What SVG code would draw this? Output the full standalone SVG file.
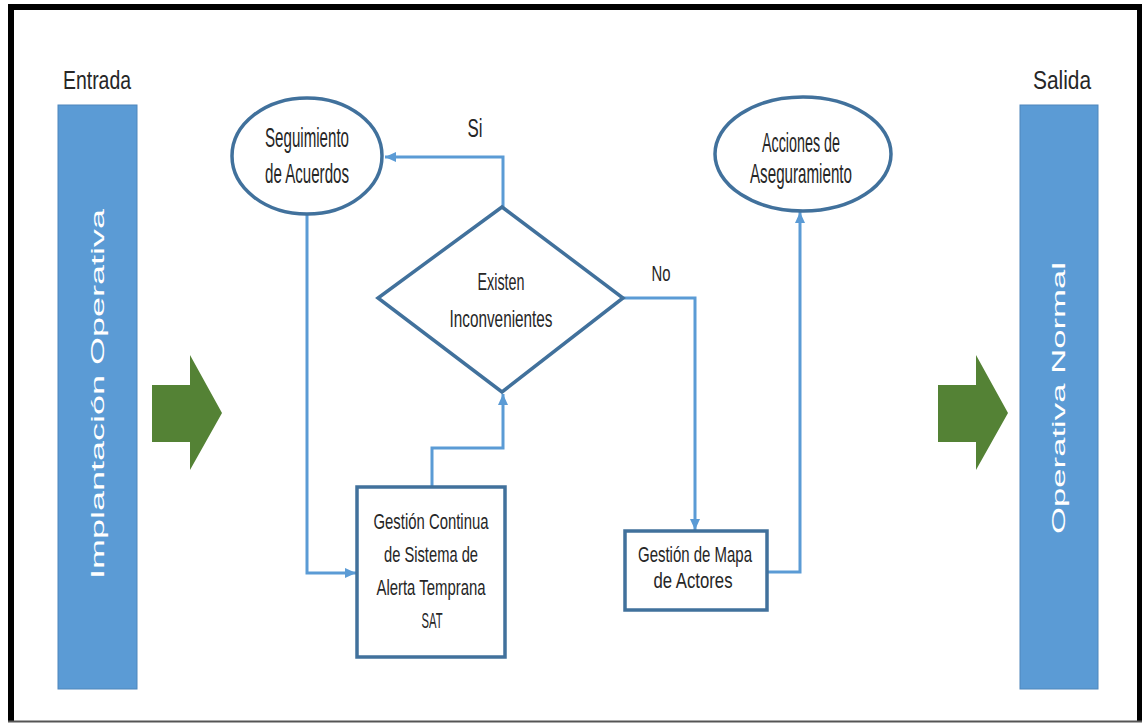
<svg xmlns="http://www.w3.org/2000/svg" width="1142" height="723" viewBox="0 0 1142 723">
  <style>
    .t { font-family: "Liberation Sans", Arial, sans-serif; fill: #262626; text-anchor: middle; }
    .bar { fill: #5B9BD5; stroke: #4F86BB; stroke-width: 1; }
    .bartxt { font-family: "Liberation Sans", Arial, sans-serif; fill: #FFFFFF; text-anchor: middle; font-size: 19px; }
    .node { fill: #FFFFFF; stroke: #41719C; stroke-width: 3.5; }
    .conn { fill: none; stroke: #5B9BD5; stroke-width: 3; }
    .green { fill: #548235; }
  </style>
  <defs>
    <marker id="arr" markerUnits="userSpaceOnUse" markerWidth="12" markerHeight="12" viewBox="0 0 12 12" refX="11" refY="6" orient="auto">
      <path d="M0,1 L11,6 L0,11 Z" fill="#5B9BD5"/>
    </marker>
  </defs>

  <!-- page -->
  <rect x="0" y="0" width="1142" height="723" fill="#FFFFFF"/>
  <path d="M11,722 V7 H1140 V722" fill="none" stroke="#000000" stroke-width="6"/>
  <line x1="8" y1="721.5" x2="1142" y2="721.5" stroke="#555555" stroke-width="2"/>

  <!-- input / output columns -->
  <g id="entrada">
    <text class="t" x="97" y="89" font-size="25" textLength="68" lengthAdjust="spacingAndGlyphs">Entrada</text>
    <rect class="bar" x="58" y="105" width="79" height="584"/>
    <text class="bartxt" transform="translate(104,394) rotate(-90)" textLength="370" lengthAdjust="spacingAndGlyphs">Implantación Operativa</text>
  </g>
  <g id="salida">
    <text class="t" x="1062" y="89" font-size="25" textLength="58" lengthAdjust="spacingAndGlyphs">Salida</text>
    <rect class="bar" x="1020" y="105" width="78" height="584"/>
    <text class="bartxt" transform="translate(1065,398) rotate(-90)" textLength="272" lengthAdjust="spacingAndGlyphs">Operativa Normal</text>
  </g>

  <!-- big green arrows -->
  <g id="arrow-in">
    <polygon class="green" points="152,385 190,385 190,355 222,413 190,470 190,442 152,442"/>
  </g>
  <g id="arrow-out">
    <polygon class="green" points="938,385 976,385 976,355 1008,413 976,470 976,442 938,442"/>
  </g>

  <!-- connectors -->
  <g id="connectors">
    <path class="conn" d="M503,207 V157 H385" marker-end="url(#arr)"/>
    <path class="conn" d="M307,215 V573 H356" marker-end="url(#arr)"/>
    <path class="conn" d="M432,487 V448 H503 V394" marker-end="url(#arr)"/>
    <path class="conn" d="M623,298 H695 V530" marker-end="url(#arr)"/>
    <path class="conn" d="M767,572 H800 V212" marker-end="url(#arr)"/>
    <text class="t" x="475" y="137" font-size="26" textLength="15" lengthAdjust="spacingAndGlyphs">Si</text>
    <text class="t" x="661" y="281" font-size="22" textLength="19" lengthAdjust="spacingAndGlyphs">No</text>
  </g>

  <!-- flow nodes -->
  <g id="seguimiento">
    <ellipse class="node" cx="307" cy="156" rx="75" ry="58"/>
    <text class="t" x="307" y="147" font-size="27" textLength="84" lengthAdjust="spacingAndGlyphs">Seguimiento</text>
    <text class="t" x="307" y="183" font-size="27" textLength="84" lengthAdjust="spacingAndGlyphs">de Acuerdos</text>
  </g>
  <g id="decision">
    <polygon class="node" points="502,207 623,298 502,392 378,298"/>
    <text class="t" x="501" y="290" font-size="24" textLength="47" lengthAdjust="spacingAndGlyphs">Existen</text>
    <text class="t" x="501" y="327" font-size="24" textLength="103" lengthAdjust="spacingAndGlyphs">Inconvenientes</text>
  </g>
  <g id="acciones">
    <ellipse class="node" cx="803" cy="154" rx="88" ry="57"/>
    <text class="t" x="801" y="152" font-size="27.5" textLength="78" lengthAdjust="spacingAndGlyphs">Acciones de</text>
    <text class="t" x="801" y="183" font-size="27.5" textLength="102" lengthAdjust="spacingAndGlyphs">Aseguramiento</text>
  </g>
  <g id="gestion-sat">
    <rect class="node" x="357" y="487" width="148" height="170"/>
    <text class="t" x="431" y="529" font-size="22.5" textLength="115" lengthAdjust="spacingAndGlyphs">Gestión Continua</text>
    <text class="t" x="431" y="562" font-size="22.5" textLength="94" lengthAdjust="spacingAndGlyphs">de Sistema de</text>
    <text class="t" x="431" y="595" font-size="22.5" textLength="109" lengthAdjust="spacingAndGlyphs">Alerta Temprana</text>
    <text class="t" x="432" y="628" font-size="22.5" textLength="21" lengthAdjust="spacingAndGlyphs">SAT</text>
  </g>
  <g id="gestion-mapa">
    <rect class="node" x="625" y="531" width="142" height="79"/>
    <text class="t" x="695" y="562" font-size="22.5" textLength="114" lengthAdjust="spacingAndGlyphs">Gestión de Mapa</text>
    <text class="t" x="693" y="588" font-size="22.5" textLength="79" lengthAdjust="spacingAndGlyphs">de Actores</text>
  </g>
</svg>
